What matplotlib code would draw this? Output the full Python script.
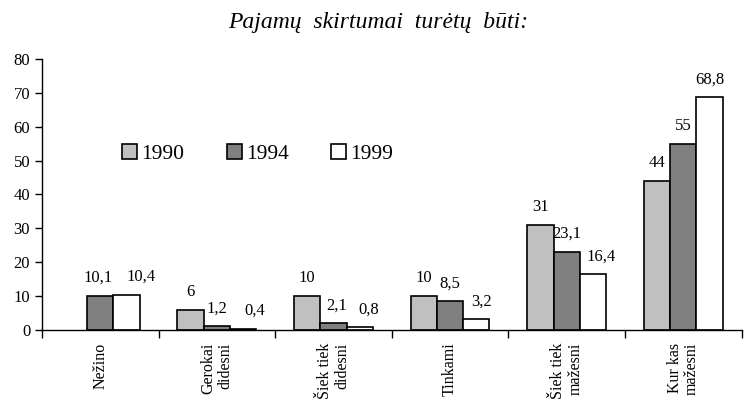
import numpy as np
import matplotlib
matplotlib.use('Agg')
import matplotlib.pyplot as plt

plt.rcParams['font.family'] = ['Liberation Serif', 'DejaVu Serif']

# Atsakymu kategorijos ir procentai pagal metus
kategorijos = ['Nežino', 'Gerokai\ndidesni', 'Šiek tiek\ndidesni', 'Tinkami',
               'Šiek tiek\nmažesni', 'Kur kas\nmažesni']
metai = ['1990', '1994', '1999']
v1990 = [np.nan, 6, 10, 10, 31, 44]
v1994 = [10.1, 1.2, 2.1, 8.5, 23.1, 55]
v1999 = [10.4, 0.4, 0.8, 3.2, 16.4, 68.8]
spalvos = ['#c0c0c0', '#808080', '#ffffff']
# etikeciu poslinkis i sona (pikseliais), kaip originale
poslinkiai = [[0] * 6, [-2, 0, 3, 0, 0, 0], [15, 12, 9, 5, 8, 0]]

fig = plt.figure(figsize=(7.49, 4.01), dpi=100)
ax = fig.add_axes([0.056, 0.177, 0.934, 0.676])

x = np.arange(len(kategorijos))
w = 0.225
for i, (vals, lab, c) in enumerate(zip([v1990, v1994, v1999], metai, spalvos)):
    pos = x + (i - 1) * w
    ax.bar(pos, vals, w, color=c, edgecolor='black', linewidth=1.2, label=lab)
    for p, v, dx in zip(pos, vals, poslinkiai[i]):
        if np.isnan(v):
            continue
        txt = ('%g' % v).replace('.', ',')
        ax.annotate(txt, (p, v), xytext=(dx * 0.72, 7), textcoords='offset points',
                    ha='center', va='bottom', fontsize=12)

ax.set_xlim(-0.5, len(kategorijos) - 0.5)
ax.set_ylim(0, 80)
ax.set_yticks(range(0, 81, 10))
ax.tick_params(axis='y', labelsize=12, length=5, width=1, direction='out')

ax.set_xticks(x)
ax.set_xticklabels(kategorijos, rotation=90, fontsize=11.5, ha='center', va='top',
                   multialignment='right', linespacing=1.1)
ax.tick_params(axis='x', length=0, pad=9)
ax.set_xticks(np.arange(-0.5, len(kategorijos), 1), minor=True)
ax.tick_params(axis='x', which='minor', length=6, width=1, direction='out')

ax.spines['top'].set_visible(False)
ax.spines['right'].set_visible(False)
ax.spines['left'].set_linewidth(1)
ax.spines['bottom'].set_linewidth(1)

ax.legend(loc='center left', bbox_to_anchor=(0.087, 0.65), ncol=3, frameon=False,
          fontsize=15.5, handlelength=0.7, handleheight=0.7, handletextpad=0.2,
          columnspacing=1.95)

fig.text(0.505, 0.945, 'Pajamų  skirtumai  turėtų  būti:', ha='center', va='center',
         fontsize=17, style='italic')

fig.savefig('out.png', dpi=100)
